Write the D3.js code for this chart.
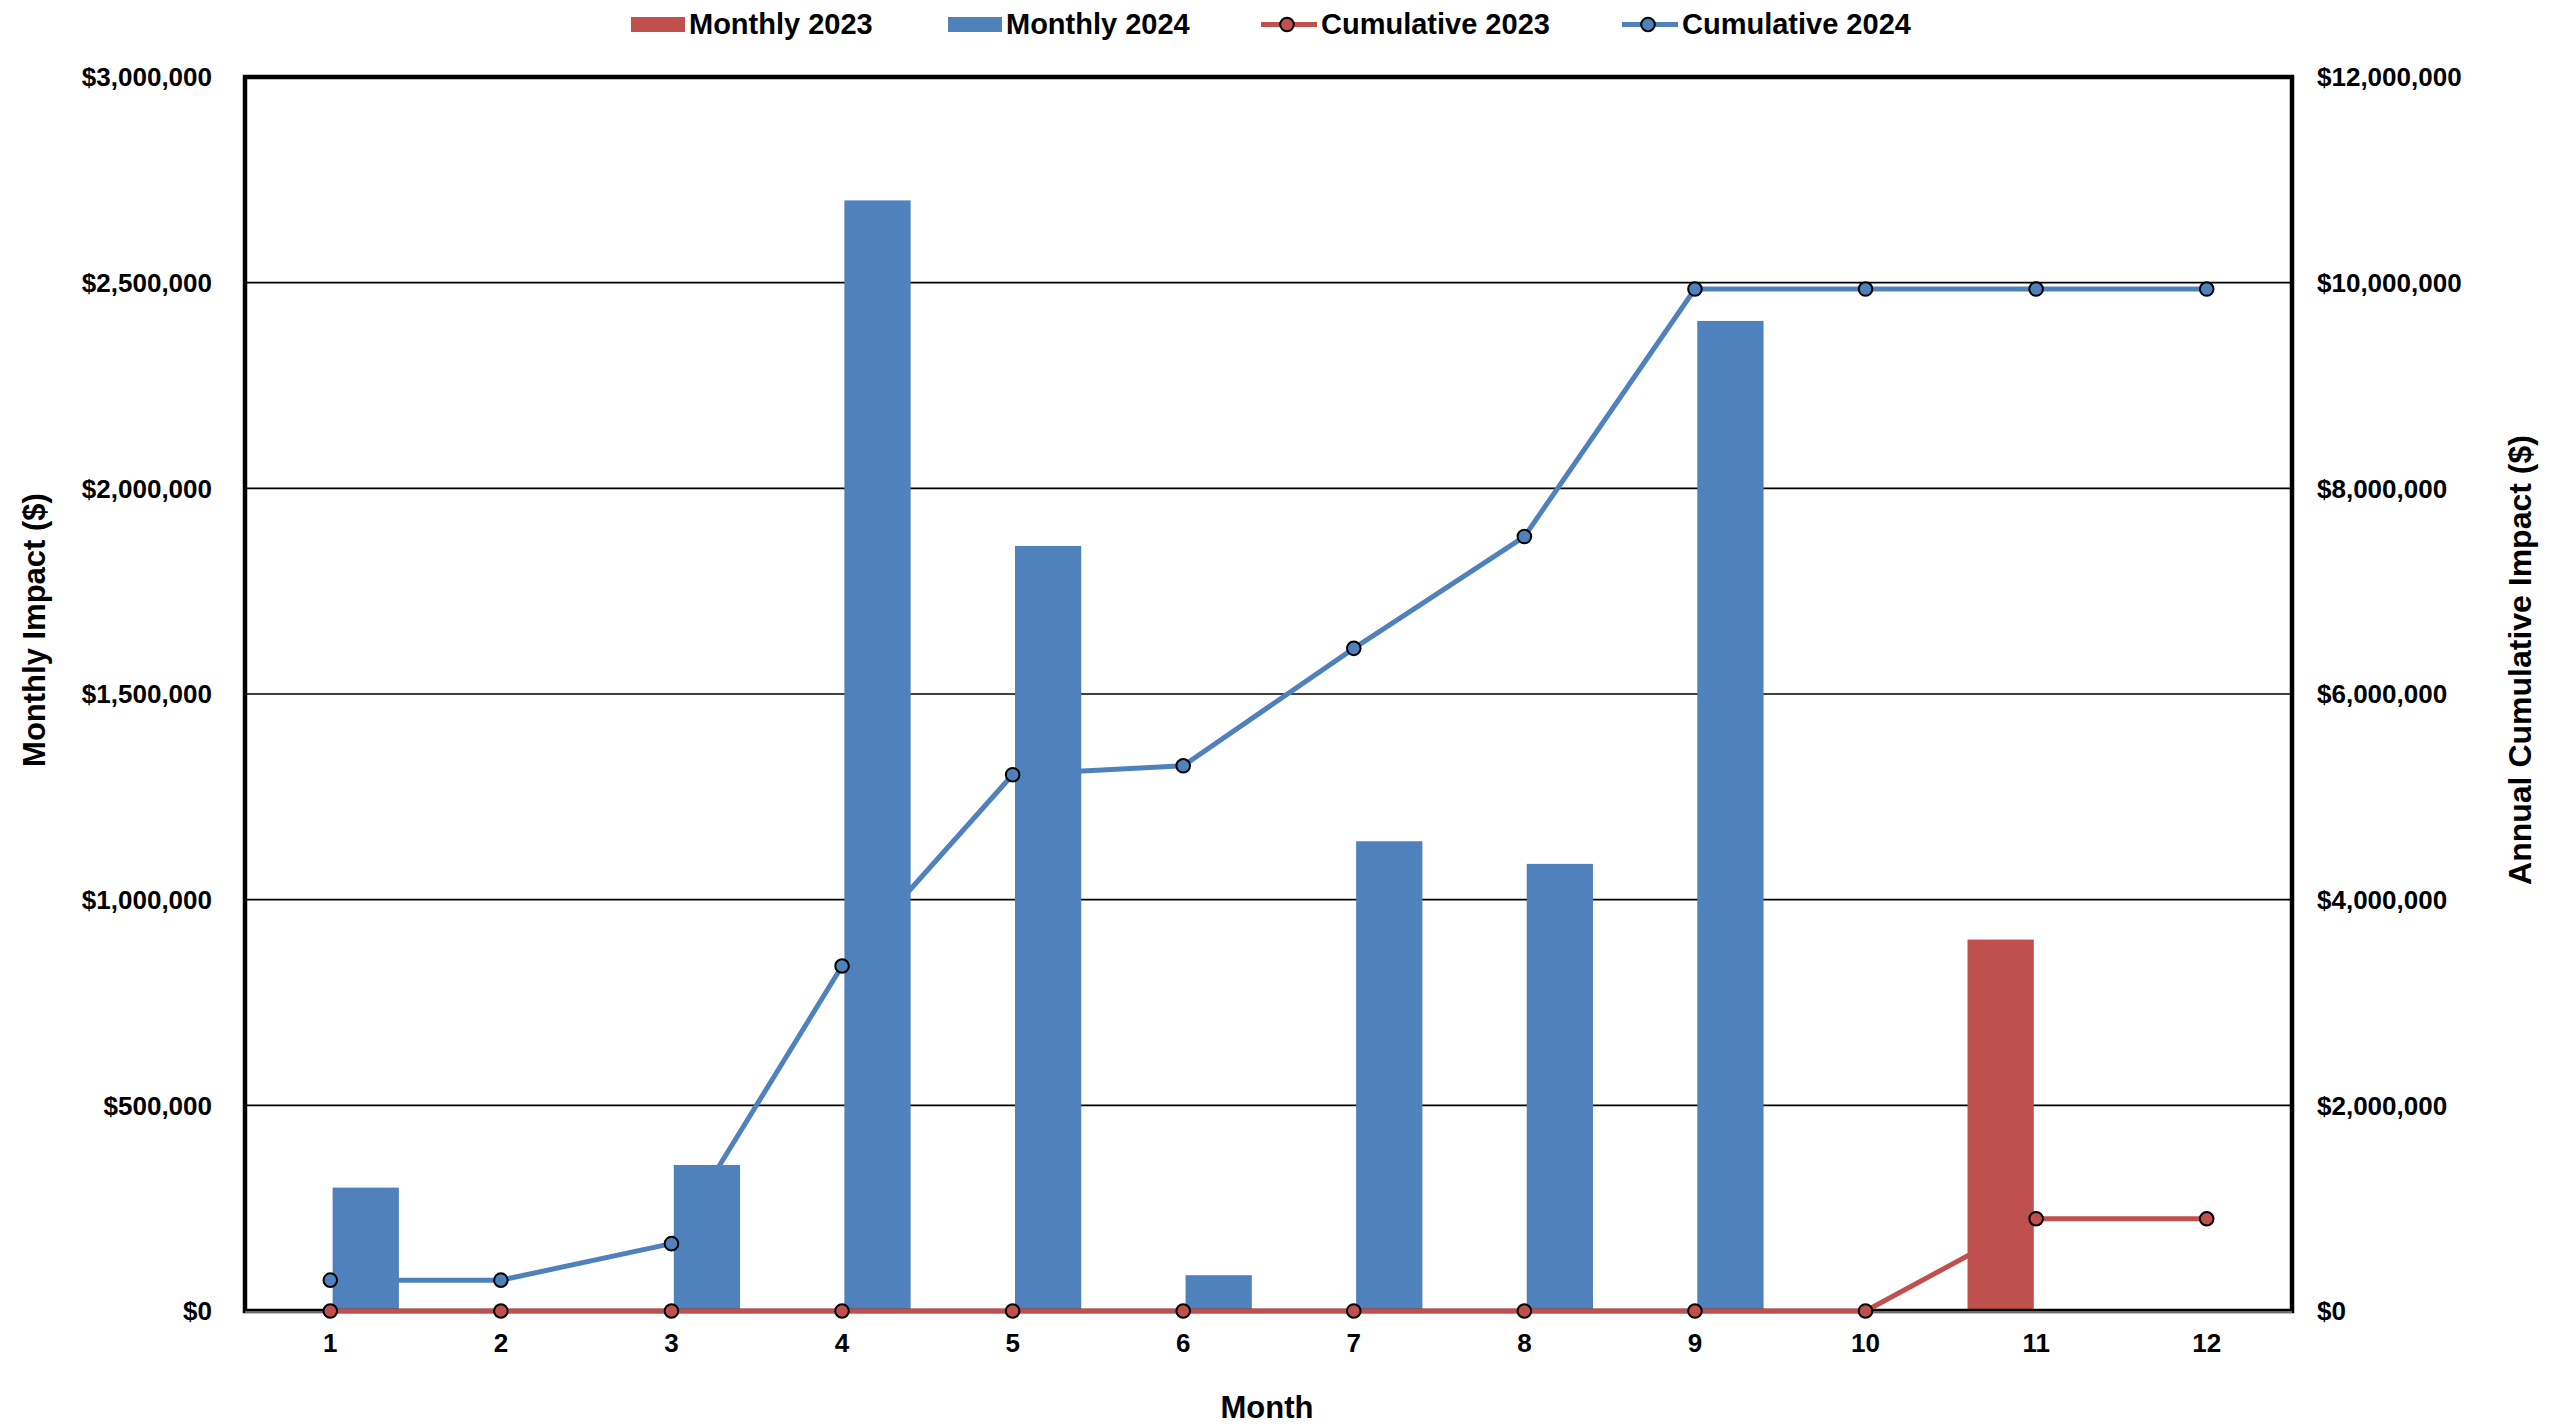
<!DOCTYPE html>
<html>
<head>
<meta charset="utf-8">
<script src="https://cdn.jsdelivr.net/npm/d3@7"></script>
<style>
  html, body { margin: 0; padding: 0; background: #fff; }
  text { font-family: Arial, "Liberation Sans", sans-serif; font-weight: bold; fill: #000; }
</style>
</head>
<body>
<svg id="chart" width="2570" height="1427"></svg>
<script>
// ---- data ----
const months = ["1","2","3","4","5","6","7","8","9","10","11","12"];
const monthly2023 = [0,0,0,0,0,0,0,0,0,0,903000,0];
const monthly2024 = [300000,0,355000,2700000,1860000,87000,1142000,1087000,2407000,0,0,0];
const cumulative2023 = [0,0,0,0,0,0,0,0,0,0,897000,897000];
const cumulative2024 = [300000,300000,655000,3355000,5215000,5302000,6444000,7531000,9938000,9938000,9938000,9938000];
const leftTicks = [0,500000,1000000,1500000,2000000,2500000,3000000];
const rightTicks = [0,2000000,4000000,6000000,8000000,10000000,12000000];
const seriesNames = ["Monthly 2023","Monthly 2024","Cumulative 2023","Cumulative 2024"];
const seriesColors = ["#C0504D","#4F81BD","#C0504D","#4F81BD"];
const axisTitles = {x:"Month", left:"Monthly Impact ($)", right:"Annual Cumulative Impact ($)"};

// ---- layout ----
const L = 245, R = 2292, T = 77, B = 1311;
const svg = d3.select("#chart");

const x = d3.scaleBand().domain(months).range([L, R]).padding(0);
const x1 = d3.scaleBand().domain(["2023","2024"]).range([-68.6, 68.6]).paddingInner(0.066);
const yL = d3.scaleLinear().domain([0, 3000000]).range([B, T]);
const yR = d3.scaleLinear().domain([0, 12000000]).range([B, T]);
const fmt = d => "$" + d3.format(",")(d);
const cx = m => x(m) + x.bandwidth() / 2;

// gridlines
svg.append("g").selectAll("line").data(leftTicks).join("line")
  .attr("x1", L).attr("x2", R)
  .attr("y1", d => yL(d)).attr("y2", d => yL(d))
  .attr("stroke", "#000").attr("stroke-width", 1.6);

// bars
const barData = [];
months.forEach((m, i) => {
  barData.push({m, s: "2023", v: monthly2023[i], c: seriesColors[0]});
  barData.push({m, s: "2024", v: monthly2024[i], c: seriesColors[1]});
});
svg.append("g").selectAll("rect").data(barData.filter(d => d.v > 0)).join("rect")
  .attr("x", d => cx(d.m) + x1(d.s))
  .attr("width", x1.bandwidth())
  .attr("y", d => yL(d.v))
  .attr("height", d => yL(0) - yL(d.v))
  .attr("fill", d => d.c);

// plot border
svg.append("rect").attr("x", L).attr("y", T).attr("width", R - L).attr("height", B - T)
  .attr("fill", "none").attr("stroke", "#000").attr("stroke-width", 4.5);
svg.append("line").attr("x1", L).attr("x2", R).attr("y1", B + 1).attr("y2", B + 1)
  .attr("stroke", "#d8d8d8").attr("stroke-width", 1.2);

// lines
const line = yScale => d3.line().x((d, i) => cx(months[i])).y(d => yScale(d));
const lineSeries = [
  {vals: cumulative2024, c: seriesColors[3]},
  {vals: cumulative2023, c: seriesColors[2]}
];
lineSeries.forEach(s => {
  svg.append("path").datum(s.vals).attr("d", line(yR))
    .attr("fill", "none").attr("stroke", s.c).attr("stroke-width", 5)
    .attr("stroke-linejoin", "round");
});
lineSeries.forEach(s => {
  svg.append("g").selectAll("circle").data(s.vals).join("circle")
    .attr("cx", (d, i) => cx(months[i])).attr("cy", d => yR(d)).attr("r", 6.8)
    .attr("fill", s.c).attr("stroke", "#000").attr("stroke-width", 2);
});

// left axis labels
svg.append("g").selectAll("text").data(leftTicks).join("text")
  .attr("x", 212).attr("y", d => yL(d)).attr("dy", "0.36em")
  .attr("text-anchor", "end").attr("font-size", 26).text(fmt);
// right axis labels
svg.append("g").selectAll("text").data(rightTicks).join("text")
  .attr("x", 2317).attr("y", d => yR(d)).attr("dy", "0.36em")
  .attr("text-anchor", "start").attr("font-size", 26).text(fmt);
// x tick labels
svg.append("g").selectAll("text").data(months).join("text")
  .attr("x", d => cx(d)).attr("y", 1352)
  .attr("text-anchor", "middle").attr("font-size", 26).text(d => d);

// axis titles
svg.append("text").attr("x", 1267).attr("y", 1418).attr("text-anchor", "middle")
  .attr("font-size", 31).text(axisTitles.x);
svg.append("text").attr("transform", "translate(45,630) rotate(-90)").attr("text-anchor", "middle")
  .attr("font-size", 31).text(axisTitles.left);
svg.append("text").attr("transform", "translate(2531,660) rotate(-90)").attr("text-anchor", "middle")
  .attr("font-size", 32).text(axisTitles.right);

// legend
const legendX = [631, 948, 1261, 1622];
const lg = svg.append("g");
seriesNames.forEach((name, i) => {
  const g = lg.append("g").attr("transform", `translate(${legendX[i]},0)`);
  if (i < 2) {
    g.append("rect").attr("x", 0).attr("y", 17).attr("width", 54).attr("height", 15).attr("fill", seriesColors[i]);
    g.append("text").attr("x", 58).attr("y", 34).attr("font-size", 29).text(name);
  } else {
    g.append("line").attr("x1", 0).attr("x2", 56).attr("y1", 24.5).attr("y2", 24.5)
      .attr("stroke", seriesColors[i]).attr("stroke-width", 5);
    g.append("circle").attr("cx", 26).attr("cy", 24.5).attr("r", 6.8)
      .attr("fill", seriesColors[i]).attr("stroke", "#000").attr("stroke-width", 2);
    g.append("text").attr("x", 60).attr("y", 34).attr("font-size", 29).text(name);
  }
});
</script>
</body>
</html>
